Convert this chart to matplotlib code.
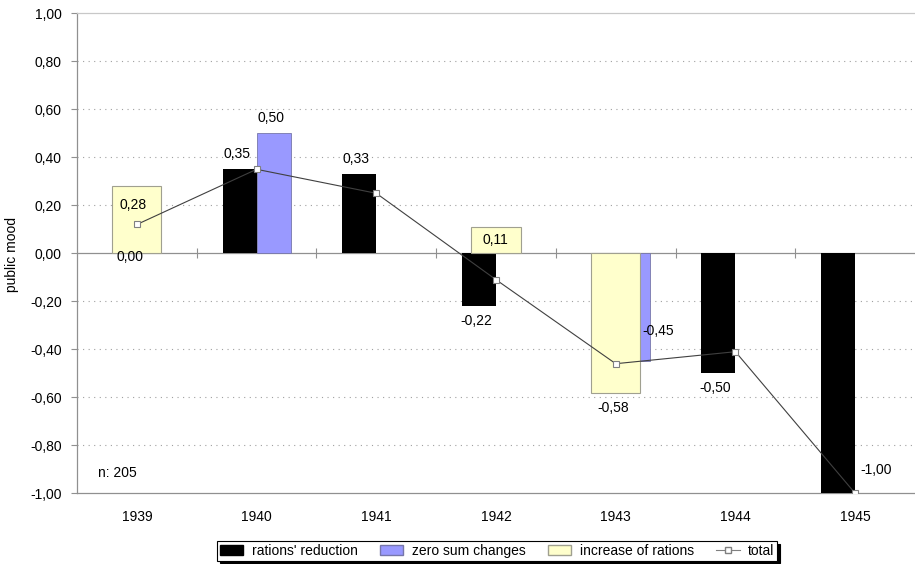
import numpy as np
import matplotlib
matplotlib.use("Agg")
import matplotlib.pyplot as plt
from matplotlib.ticker import FuncFormatter, MultipleLocator
from matplotlib.patches import Patch
from matplotlib.lines import Line2D

# data
years = ["1939", "1940", "1941", "1942", "1943", "1944", "1945"]
reduction = [0.00, 0.35, 0.33, -0.22, np.nan, -0.50, -1.00]
zero_sum = [np.nan, 0.50, np.nan, np.nan, -0.45, np.nan, np.nan]
increase = [0.28, np.nan, np.nan, 0.11, -0.58, np.nan, np.nan]
total = [0.12, 0.35, 0.25, -0.11, -0.46, -0.41, -1.00]
n_obs = 205

plt.rcParams['font.family'] = ['Liberation Sans', 'DejaVu Sans']
plt.rcParams['font.size'] = 10

fig = plt.figure(figsize=(9.15, 5.64), dpi=100)
ax = fig.add_axes([77 / 915, 1 - 493.3 / 564, 1 - 77 / 915, 480 / 564])

x = np.arange(len(years))

# bar layout (category units)
red_c, red_w = -0.142, 0.285
blue_c, blue_w = 0.148, 0.285
yel_c, yel_w = 0.0, 0.41

ax.bar(x + red_c, reduction, red_w, color='black', linewidth=0, zorder=3)
ax.bar(x + blue_c, zero_sum, blue_w, color='#9999FF', edgecolor='#7777aa', linewidth=0.6, zorder=3)
ax.bar(x + yel_c, increase, yel_w, color='#FFFFCC', edgecolor='#a0a090', linewidth=0.8, zorder=4)

ax.plot(x, total, color='#404040', lw=0.8, zorder=5)
ax.plot(x, total, ls='none', marker='s', ms=4.5, mfc='white', mec='#808080', mew=0.8, zorder=6)


def fmt(v):
    s = "{:.2f}".format(v).replace('.', ',')
    return "0,00" if s == "-0,00" else s


# data labels: offset in pixels from (bar center, bar end)
label_shift = {
    ('r', 0): (10, -4),
    ('r', 6): (38, 23),
    ('b', 4): (25, 30),
    ('y', 0): (-4, -19),
    ('y', 3): (-1, -13),
}
for key, vals, c in (('r', reduction, red_c), ('b', zero_sum, blue_c), ('y', increase, yel_c)):
    for i, v in enumerate(vals):
        if np.isnan(v):
            continue
        dx, dy = label_shift.get((key, i), (-3, 15 if v > 0 else -15))
        ax.annotate(fmt(v), (x[i] + c, v), xytext=(dx, dy), textcoords='offset pixels',
                    ha='center', va='center', fontsize=10, zorder=7)

# axes styling
ax.set_xlim(-0.5, len(years) - 0.5)
ax.set_ylim(-1.0, 1.0)
ax.yaxis.set_major_locator(MultipleLocator(0.2))
ax.yaxis.set_major_formatter(FuncFormatter(lambda v, p: fmt(v)))
for yv in np.arange(-0.8, 0.81, 0.2):
    if abs(yv) > 1e-6:
        ax.axhline(yv, color='#a0a0a0', lw=0.8, ls=(0, (1, 4)), zorder=1)
ax.axhline(0, color='#909090', lw=0.9, zorder=2)
ax.plot(x[:-1] + 0.5, np.zeros(len(x) - 1), ls='none', marker='|', ms=7, mec='#909090', mew=0.8, zorder=2)

ax.set_xticks(x)
ax.set_xticklabels(years)
ax.tick_params(axis='x', length=0, pad=12)
ax.tick_params(axis='y', length=4, color='#909090', pad=7, direction='out')

for s in ('left', 'bottom'):
    ax.spines[s].set_color('#909090')
    ax.spines[s].set_linewidth(0.9)
ax.spines['top'].set_color('#c8c8c8')
ax.spines['top'].set_linewidth(0.9)
ax.spines['right'].set_visible(False)

fig.text(12 / 915, 1 - 255 / 564, "public mood", rotation=90, ha='center', va='center', fontsize=10)
ax.text(0.025, 0.033, "n: {}".format(n_obs), transform=ax.transAxes, fontsize=10)

handles = [
    Patch(facecolor='black', edgecolor='black'),
    Patch(facecolor='#9999FF', edgecolor='#7777aa'),
    Patch(facecolor='#FFFFCC', edgecolor='#a0a090'),
    Line2D([], [], color='#808080', lw=0.8, marker='s', ms=4, mfc='white', mec='#808080'),
]
labels = ["rations' reduction", "zero sum changes", "increase of rations", "total"]
leg = fig.legend(handles, labels, loc='lower center', bbox_to_anchor=(497 / 915, 0.0), ncol=4,
                 frameon=True, fancybox=False, shadow={'color': 'black', 'alpha': 1.0},
                 edgecolor='black', fontsize=10, handlelength=1.7, handleheight=0.7,
                 handletextpad=0.6, columnspacing=1.6, borderpad=0.2, borderaxespad=0.25)
leg.get_frame().set_linewidth(0.8)

fig.savefig("out.png", dpi=100)
